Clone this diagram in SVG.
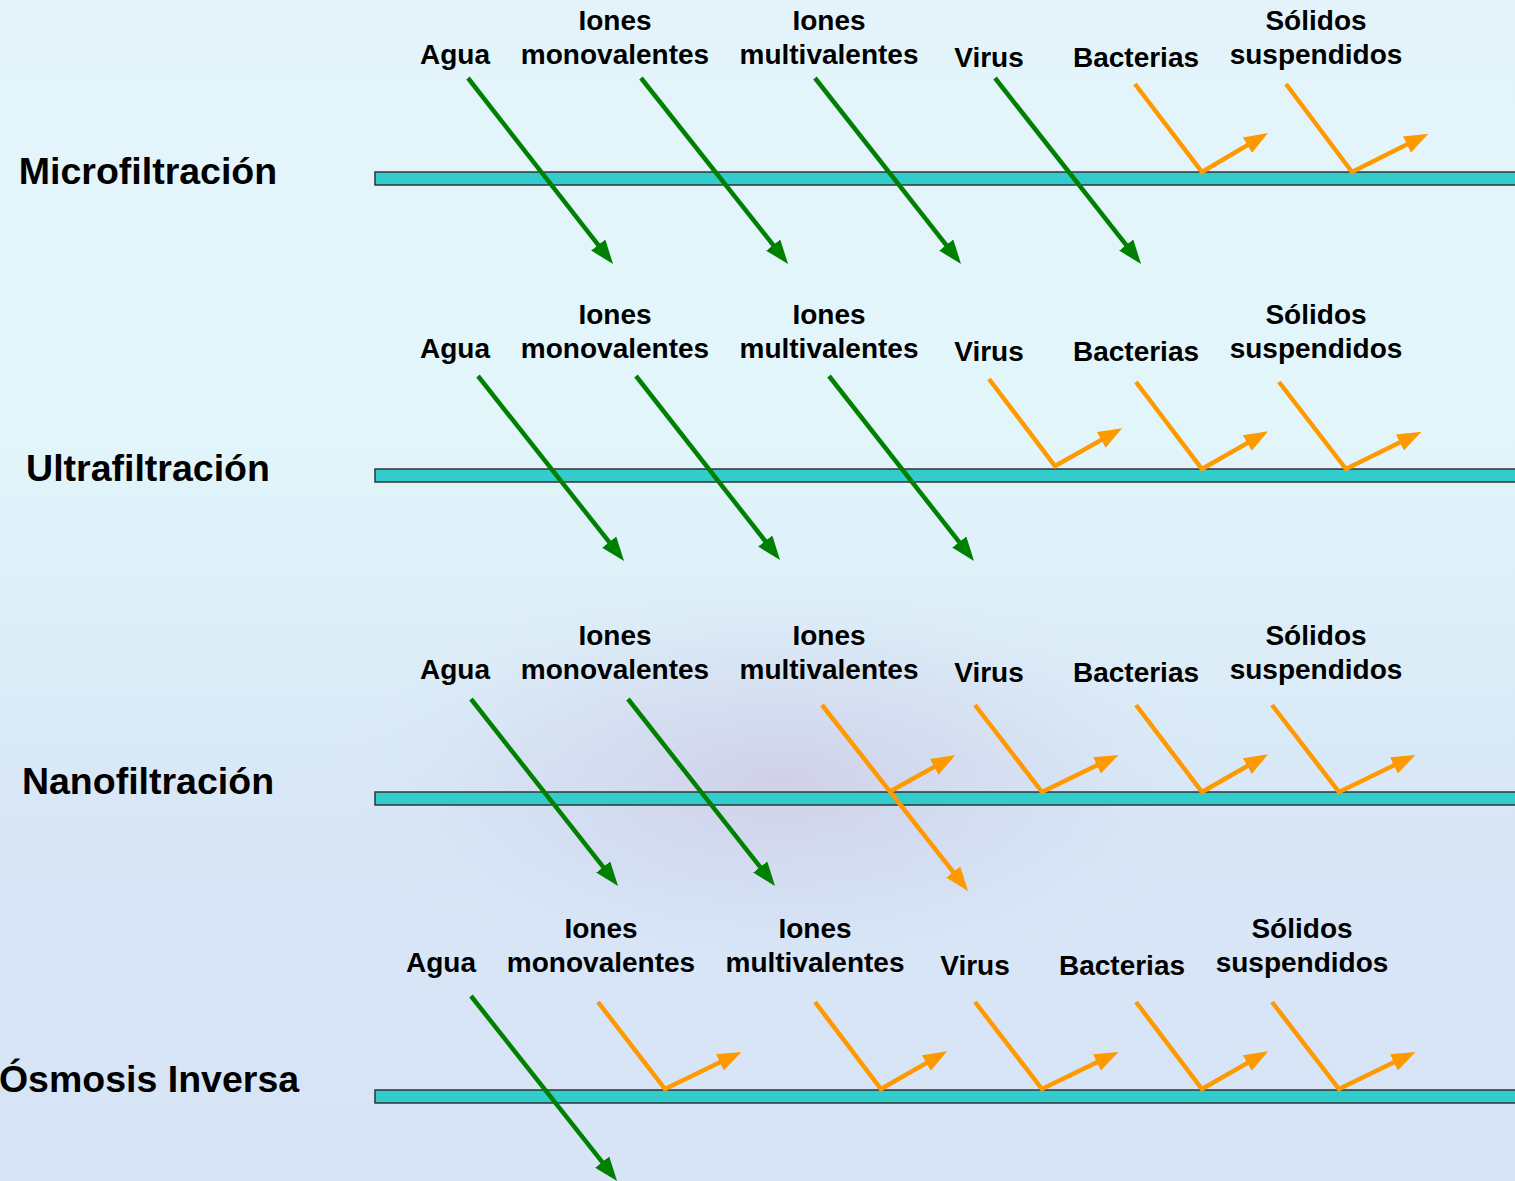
<svg xmlns="http://www.w3.org/2000/svg" width="1515" height="1181" viewBox="0 0 1515 1181">
<defs>
<linearGradient id="bg" x1="0" y1="0" x2="0" y2="1">
<stop offset="0" stop-color="#e4f3fa"/>
<stop offset="0.35" stop-color="#e2f6fa"/>
<stop offset="0.7" stop-color="#d8e6f6"/>
<stop offset="1" stop-color="#d6e4f6"/>
</linearGradient>
<radialGradient id="drop" cx="0.5" cy="0.5" r="0.5">
<stop offset="0" stop-color="#c4b4d8" stop-opacity="0.45"/>
<stop offset="0.6" stop-color="#cdd0ea" stop-opacity="0.3"/>
<stop offset="1" stop-color="#d8e6f6" stop-opacity="0"/>
</radialGradient>
<marker id="ag" markerUnits="userSpaceOnUse" markerWidth="24" markerHeight="18" refX="11" refY="9" orient="auto"><path d="M0,0 L24,9 L0,18 z" fill="#008000"/></marker>
<marker id="ao" markerUnits="userSpaceOnUse" markerWidth="24" markerHeight="18" refX="11" refY="9" orient="auto"><path d="M0,0 L24,9 L0,18 z" fill="#ff9900"/></marker>
</defs>
<style>
.lbl{font-family:"Liberation Sans",Arial,sans-serif;font-weight:bold;font-size:28px;fill:#000;text-anchor:middle}
.ttl{font-family:"Liberation Sans",Arial,sans-serif;font-weight:bold;font-size:37.5px;fill:#000;text-anchor:middle}
.mem{fill:#33cccc;stroke:#333;stroke-width:1.5}
.g{stroke:#008000;stroke-width:4.5;fill:none;marker-end:url(#ag)}
.o{stroke:#ff9900;stroke-width:4.5;fill:none;stroke-linejoin:miter;marker-end:url(#ao)}
</style>
<rect width="1515" height="1181" fill="url(#bg)"/>
<ellipse cx="780" cy="780" rx="440" ry="200" fill="url(#drop)"/>

<g id="row-micro">
<text class="ttl" x="148" y="184">Microfiltración</text>
<rect class="mem" x="375" y="172" width="1145" height="13"/>
<text class="lbl" x="455" y="64">Agua</text>
<text class="lbl" x="615" y="30">Iones</text>
<text class="lbl" x="615" y="64">monovalentes</text>
<text class="lbl" x="829" y="30">Iones</text>
<text class="lbl" x="829" y="64">multivalentes</text>
<text class="lbl" x="989" y="67">Virus</text>
<text class="lbl" x="1136" y="67">Bacterias</text>
<text class="lbl" x="1316" y="30">Sólidos</text>
<text class="lbl" x="1316" y="64">suspendidos</text>
</g>

<g id="row-ultra">
<text class="ttl" x="148" y="481">Ultrafiltración</text>
<rect class="mem" x="375" y="469" width="1145" height="13"/>
<text class="lbl" x="455" y="358">Agua</text>
<text class="lbl" x="615" y="324">Iones</text>
<text class="lbl" x="615" y="358">monovalentes</text>
<text class="lbl" x="829" y="324">Iones</text>
<text class="lbl" x="829" y="358">multivalentes</text>
<text class="lbl" x="989" y="361">Virus</text>
<text class="lbl" x="1136" y="361">Bacterias</text>
<text class="lbl" x="1316" y="324">Sólidos</text>
<text class="lbl" x="1316" y="358">suspendidos</text>
</g>

<g id="row-nano">
<text class="ttl" x="148" y="794">Nanofiltración</text>
<rect class="mem" x="375" y="792" width="1145" height="13"/>
<text class="lbl" x="455" y="679">Agua</text>
<text class="lbl" x="615" y="645">Iones</text>
<text class="lbl" x="615" y="679">monovalentes</text>
<text class="lbl" x="829" y="645">Iones</text>
<text class="lbl" x="829" y="679">multivalentes</text>
<text class="lbl" x="989" y="682">Virus</text>
<text class="lbl" x="1136" y="682">Bacterias</text>
<text class="lbl" x="1316" y="645">Sólidos</text>
<text class="lbl" x="1316" y="679">suspendidos</text>
</g>

<g id="row-osmosis">
<text class="ttl" x="149" y="1092">Ósmosis Inversa</text>
<rect class="mem" x="375" y="1090" width="1145" height="13"/>
<text class="lbl" x="441" y="972">Agua</text>
<text class="lbl" x="601" y="938">Iones</text>
<text class="lbl" x="601" y="972">monovalentes</text>
<text class="lbl" x="815" y="938">Iones</text>
<text class="lbl" x="815" y="972">multivalentes</text>
<text class="lbl" x="975" y="975">Virus</text>
<text class="lbl" x="1122" y="975">Bacterias</text>
<text class="lbl" x="1302" y="938">Sólidos</text>
<text class="lbl" x="1302" y="972">suspendidos</text>
</g>

<g id="connectors">
<!-- Microfiltración -->
<path class="g" d="M468,78 L605,253.7"/>
<path class="g" d="M641,78 L780,253.7"/>
<path class="g" d="M815,78 L953,253.7"/>
<path class="g" d="M995,78 L1133,253.7"/>
<path class="o" d="M1135,84 L1202,172 L1256.8,139.6"/>
<path class="o" d="M1286,84 L1352,172 L1416.8,139.6"/>
<!-- Ultrafiltración -->
<path class="g" d="M478,376 L616,550.7"/>
<path class="g" d="M636,376 L772,549.7"/>
<path class="g" d="M829,376 L966,550.7"/>
<path class="o" d="M989,379 L1055,466 L1110.8,434.6"/>
<path class="o" d="M1136,382 L1202,469 L1256.8,437.6"/>
<path class="o" d="M1279,382 L1346,469 L1409.8,437.6"/>
<!-- Nanofiltración -->
<path class="g" d="M471,699 L610,875.7"/>
<path class="g" d="M628,699 L767,875.7"/>
<path class="o" d="M822,705 L960,880.7"/>
<path class="o" d="M889,792 L943.8,761.6"/>
<path class="o" d="M975,705 L1042,792 L1106.8,760.6"/>
<path class="o" d="M1136,705 L1202,792 L1256.8,760.6"/>
<path class="o" d="M1272,705 L1339,792 L1403.8,760.6"/>
<!-- Ósmosis Inversa -->
<path class="g" d="M471,996 L609,1170.7"/>
<path class="o" d="M598,1002 L665,1089 L729.8,1057.6"/>
<path class="o" d="M815,1002 L881,1089 L935.8,1057.6"/>
<path class="o" d="M975,1002 L1042,1089 L1106.8,1057.6"/>
<path class="o" d="M1136,1002 L1202,1089 L1256.8,1057.6"/>
<path class="o" d="M1272,1002 L1339,1089 L1403.8,1057.6"/>
</g>
</svg>
